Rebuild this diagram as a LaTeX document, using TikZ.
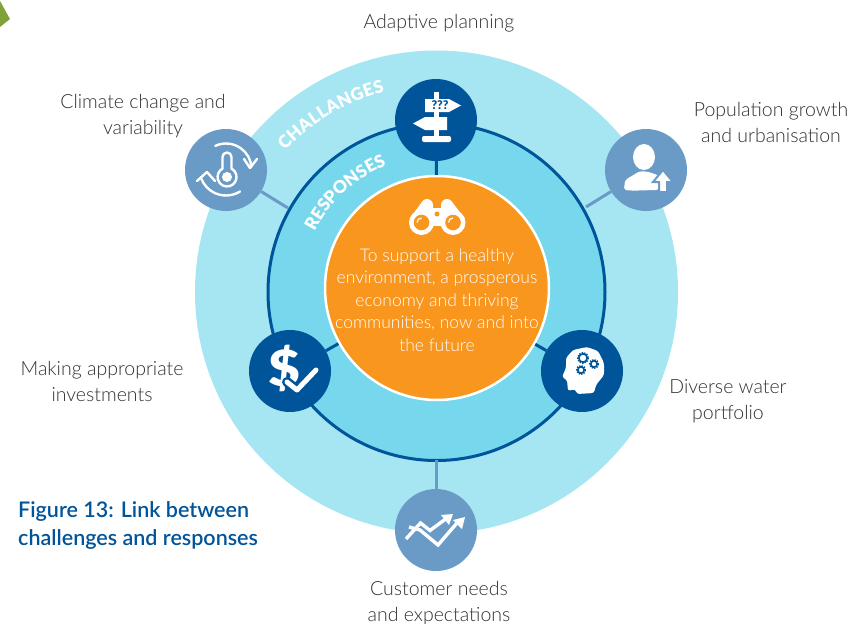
\documentclass[tikz,border=0pt]{standalone}
\usepackage{fontspec}
\setmainfont{Lato Light}[BoldFont=Lato Semibold]
\newfontfamily\heavyf{Lato Black}
\usetikzlibrary{decorations.text,calc}
\definecolor{outerc}{HTML}{A5E6F2}
\definecolor{innerc}{HTML}{77D7EC}
\definecolor{darkb}{HTML}{00549A}
\definecolor{medb}{HTML}{6A9AC6}
\definecolor{orangec}{HTML}{F8961E}
\definecolor{greenc}{HTML}{7FA33A}
\definecolor{textc}{HTML}{303030}
\tikzset{
  darkdisc/.style={circle,fill=darkb,draw=none,minimum size=82pt,inner sep=0pt},
  meddisc/.style={circle,fill=medb,draw=none,minimum size=82pt,inner sep=0pt},
  goaldisc/.style={circle,fill=orangec,draw=white,line width=2.5pt,minimum size=224pt,inner sep=0pt},
  label/.style={text=textc,align=center,font=\fontsize{19.5}{26}\selectfont,inner sep=0pt},
  darkline/.style={draw=darkb,line width=3pt},
  medline/.style={draw=medb,line width=3pt},
  ico/.style={draw=white,line width=2.4pt,line cap=round,line join=round},
  curved/.style={decorate,decoration={text along path,text align=fit to path,
     text={|\fontsize{17.5}{17.5}\selectfont\heavyf\color{white}|#1}}},
}
\begin{document}
\begin{tikzpicture}[x=1pt,y=-1pt]
\useasboundingbox (0,0) rectangle (868,624);
\fill[greenc] (0,1) -- (10,19) -- (0,27) -- cycle;
% rings
\fill[outerc] (436.5,292) circle (241.5);
\fill[innerc] (436.5,292) circle (168.5);
\draw[darkline] (436.5,292) circle (168.5);
% named parts
\node[goaldisc] (goal) at (437,288) {};
\node[darkdisc] (plan) at (436,120) {};
\node[meddisc] (clim) at (226,170) {};
\node[meddisc] (pop) at (646,170) {};
\node[darkdisc] (inv) at (290,371) {};
\node[darkdisc] (port) at (582,371) {};
\node[meddisc] (cust) at (436,530) {};
\coordinate (ringa) at (288,208);
\coordinate (ringb) at (586,207);
\coordinate (ringc) at (436,460);
% connectors
\draw[darkline] (plan) -- (goal);
\draw[darkline] (inv) -- (goal);
\draw[darkline] (port) -- (goal);
\draw[medline] (clim) -- (ringa);
\draw[medline] (pop) -- (ringb);
\draw[medline] (cust) -- (ringc);
% curved titles
\path[curved=CHALLANGES] ($(436.5,292)+(-137:207)$) arc[start angle=-137,end angle=-104.5,radius=207];
\path[curved=RESPONSES] ($(436.5,292)+(-153.5:136)$) arc[start angle=-153.5,end angle=-112.5,radius=136];
% sign icon
\fill[white] (434,92) rectangle (439,139);
\fill[white] (425,99) -- (449,99) -- (461,105.5) -- (449,112) -- (425,112) -- cycle;
\fill[white] (413,123.5) -- (425,117) -- (447,117) -- (447,130) -- (425,130) -- cycle;
\fill[white,rounded corners=2pt] (422,136) rectangle (451,142);
\node[text=darkb,inner sep=0pt,font=\fontsize{12}{12}\heavyf\selectfont] (qm) at (440,105.5) {???};
% thermometer icon
\draw[ico] (222.5,168.6) -- (222.5,157) arc[start angle=180,end angle=360,radius=4.5] -- (231.5,168.6)
  arc[start angle=-62,end angle=242,radius=9.5];
\fill[white] (227,177) circle (5);
\draw[ico] (226,169)++(-115:25.5) arc[start angle=-115,end angle=-5,radius=25.5];
\draw[ico] (244,159) -- (250,168) -- (257,159);
\draw[ico] (226,169)++(58:26.5) arc[start angle=58,end angle=158,radius=26.5];
\draw[ico] (197,181) -- (207,172) -- (215,181);
% person icon
\fill[white] (644,157) ellipse (11 and 13);
\fill[white,rounded corners=3pt] (624,190) -- (625,180) -- (640,171) -- (649,172) -- (660,176) -- (659,190) .. controls (650,190) and (635,191) .. (624,190) -- cycle;
\fill[white,draw=medb,line width=2pt] (663,170) -- (673,182) -- (667,182) -- (667,192) -- (659,192) -- (659,182) -- (653,182) -- cycle;
% dollar icon
\node[text=white,inner sep=0pt,xscale=1.1,font=\fontsize{50}{50}\heavyf\selectfont] (dollar) at (284,368) {\$};
\draw[darkb,line width=10pt,line cap=round,line join=round] (287,382) -- (297,390) -- (316,370);
\draw[white,line width=5pt,line cap=round,line join=round] (287,382) -- (297,390) -- (316,370);
% head icon
\fill[white,rounded corners=2.5pt] (566,358) -- (573,350) -- (587,347) -- (598,351) -- (604,363) -- (604,375) -- (596,385) -- (594,393) -- (577,394) -- (575,389) -- (568,391) -- (567,380) -- (562,377) -- (566,368) -- cycle;
\foreach \gx/\gy/\gr in {583/358/4.2,594/364/3.2,581/370/3.2}{
  \draw[darkb,line width=1.4pt,dash pattern=on 1.4pt off 1.2pt] (\gx,\gy) circle (\gr+1.2);
  \draw[darkb,line width=1.6pt] (\gx,\gy) circle (\gr);
}
% chart icon
\draw[white,line width=3.4pt,line join=miter] (406,539) -- (420.5,523) -- (430,530.5) -- (447,518);
\fill[white] (453,514) -- (441,515) -- (449,525) -- cycle;
\draw[white,line width=3.4pt,line join=miter] (409,527) -- (420,530) -- (438,545) -- (457,523);
\fill[white] (465,517) -- (453,520) -- (462,529) -- cycle;
% binoculars icon
\fill[white] (421.5,222.5) circle (12.5);
\fill[white] (453,222.5) circle (12.5);
\fill[white] (427,205) circle (6);
\fill[white] (447,205) circle (6);
\fill[white] (409.5,219) -- (421.5,202.5) -- (433,205) -- (433,226) -- (420,232) -- cycle;
\fill[white] (465,219) -- (452.5,202.5) -- (441,205) -- (441,226) -- (454,232) -- cycle;
\fill[white] (431,208) rectangle (443,226);
\fill[orangec] (421.5,222.5) circle (7.8);
\fill[orangec] (453,222.5) circle (7.8);
\fill[orangec] (437,214) circle (2.5);
\draw[white,line width=1.2pt] (417,222.5) arc[start angle=180,end angle=270,radius=4.5];
\draw[white,line width=1.2pt] (448.5,222.5) arc[start angle=180,end angle=270,radius=4.5];
% texts
\node[text=white,align=center,inner sep=0pt,font=\fontsize{17.5}{22.5}\selectfont] (goaltext) at (437,300) {To support a healthy\\environment, a prosperous\\economy and thriving\\communities, now and into\\the future};
\node[label] (t1) at (439,23) {Adaptive planning};
\node[label] (t2) at (143,116) {Climate change and\\variability};
\node[label] (t3) at (771,122) {Population growth\\and urbanisation};
\node[label] (t4) at (102,381) {Making appropriate\\investments};
\node[label] (t5) at (728,401) {Diverse water\\portfolio};
\node[label] (t6) at (439,603) {Customer needs\\and expectations};
\node[text=darkb,align=left,anchor=west,inner sep=0pt,font=\fontsize{21.5}{28}\selectfont\bfseries] (fig) at (18,525) {Figure 13: Link between\\challenges and responses};
\end{tikzpicture}
\end{document}
